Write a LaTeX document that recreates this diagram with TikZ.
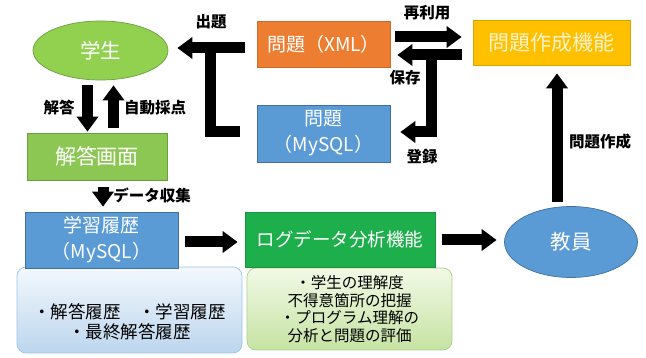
\documentclass[tikz,border=0pt]{standalone}
\usepackage{fontspec}
\setmainfont{Noto Sans CJK JP}
\usetikzlibrary{arrows.meta,calc,shapes.geometric}
\definecolor{cgreen}{HTML}{92D050}
\definecolor{cgreenb}{HTML}{6E9E3C}
\definecolor{cgreen2}{HTML}{8CC753}
\definecolor{corange}{HTML}{ED7D31}
\definecolor{cblue}{HTML}{5B9BD5}
\definecolor{cblueb}{HTML}{41719C}
\definecolor{cyellow}{HTML}{FFC000}
\definecolor{cyelltext}{HTML}{FFF2CC}
\definecolor{cdgreen}{HTML}{1DAF4B}
\definecolor{lbtop}{HTML}{F3F8FD}
\definecolor{lbbot}{HTML}{BCD6EE}
\definecolor{lbdraw}{HTML}{9DC3E6}
\definecolor{lgtop}{HTML}{F2F9E6}
\definecolor{lgbot}{HTML}{C6E3A3}
\definecolor{lgdraw}{HTML}{A9D18E}
\begin{document}
\begin{tikzpicture}[x=1pt,y=-1pt,
  shapebox/.style={rectangle, inner sep=0pt, line width=0.7pt, text=white, align=center,
    font=\fontsize{19}{26}\selectfont},
  ellbox/.style={ellipse, inner sep=0pt, line width=0.7pt, text=white,
    font=\fontsize{20.5}{24}\selectfont},
  lightbox/.style={rectangle, rounded corners=9pt, line width=0.7pt, inner sep=0pt, align=center},
  bigline/.style={line width=11pt, draw=black, line join=miter},
  bigarrow/.style={bigline, -{Triangle[width=21pt,length=15pt]}},
  lab/.style={font=\bfseries\fontsize{15.5}{18}\selectfont, inner sep=0pt}
]
\useasboundingbox (0,0) rectangle (646,358);

% light boxes
\node[lightbox, top color=lbtop, bottom color=lbbot, draw=lbdraw,
  minimum width=225pt, minimum height=86pt,
  label={[align=center, font=\fontsize{17.5}{20}\selectfont, yshift=-12pt]center:{・解答履歴　・学習履歴\\・最終解答履歴}}]
  (hist) at (129.5,310) {};
\node[lightbox, top color=lgtop, bottom color=lgbot, draw=lgdraw,
  minimum width=205pt, minimum height=82pt, font=\fontsize{15.5}{17.6}\selectfont]
  (evalbox) at (349.5,309) {・学生の理解度\\不得意箇所の把握\\・プログラム理解の\\分析と問題の評価};

% main nodes
\node[ellbox, fill=cgreen, draw=cgreenb, minimum width=135pt, minimum height=59pt] (gakusei) at (100.5,50.5) {学生};
\node[shapebox, fill=cgreen2, draw=cgreenb, minimum width=140pt, minimum height=47pt, font=\fontsize{21}{24}\selectfont] (kaitou) at (97,156.5) {解答画面};
\node[shapebox, fill=corange, draw=corange!85!black, minimum width=133pt, minimum height=46pt] (xml) at (323.5,44) {問題（XML）};
\node[shapebox, fill=cblue, draw=cblueb, minimum width=133pt, minimum height=57pt] (mysqlq) at (323.5,133.5) {問題\\（MySQL）};
\node[shapebox, fill=cyellow, draw=cyellow!85!black, text=cyelltext, minimum width=157pt, minimum height=45pt, font=\fontsize{21}{24}\selectfont] (sakusei) at (551.5,42.5) {問題作成機能};
\node[ellbox, fill=cblue, draw=cblueb, minimum width=133pt, minimum height=71pt] (kyoin) at (571,242) {教員};
\node[shapebox, fill=cblue, draw=cblueb, minimum width=153pt, minimum height=56pt] (rireki) at (101.5,240) {学習履歴\\（MySQL）};
\node[shapebox, fill=cdgreen, draw=cdgreen!85!black, minimum width=190pt, minimum height=55pt, font=\fontsize{18.5}{24}\selectfont] (logana) at (340,239.5) {ログデータ分析機能};

% connectors
\draw[bigarrow] ($(gakusei.south)+(-13,5)$) -- ($(gakusei.south |- kaitou.north)+(-13,-1)$);
\draw[bigarrow] ($(gakusei.south |- kaitou.north)+(13,-5)$) -- ($(gakusei.south)+(13,5)$);
\draw[bigarrow] ($(xml.west)+(-12,4)$) -- ($(gakusei.east)+(9,-2.5)$);
\draw[bigline] ($(mysqlq.west)+(-17,-1.5)$) -| ($(xml.west)+(-46,4)$);
\draw[bigarrow] ($(xml.east)+(5,-7)$) -- ($(sakusei.west)+(-11,-5.5)$);
\draw[bigarrow] ($(sakusei.west)+(-11,12.5)$) -- ($(xml.east)+(7,11)$);
\draw[bigarrow] ($(sakusei.west)+(-41,12.5)$) |- ($(mysqlq.east)+(10,-1.5)$);
\draw[bigarrow] ($(kyoin.north)+(-14,-4.5)$) -- ($(sakusei.south)+(5.5,8)$);
\draw[bigarrow] ($(kaitou.south)+(6,7)$) -- ($(kaitou.south |- rireki.north)+(6,-5)$);
\draw[bigarrow] ($(rireki.east)+(7,2)$) -- ($(logana.west)+(-7,2.5)$);
\draw[bigarrow] ($(logana.east)+(7,0.5)$) -- ($(kyoin.west)+(-7.5,-2)$);

% labels
\node[lab] (l1) at (59,108) {解答};
\node[lab] (l2) at (155,108) {自動採点};
\node[lab] (l3) at (211,22) {出題};
\node[lab] (l4) at (427,13) {再利用};
\node[lab] (l5) at (405,78) {保存};
\node[lab] (l6) at (422,157) {登録};
\node[lab] (l7) at (600,142) {問題作成};
\node[lab] (l8) at (152,195) {データ収集};
\end{tikzpicture}
\end{document}
